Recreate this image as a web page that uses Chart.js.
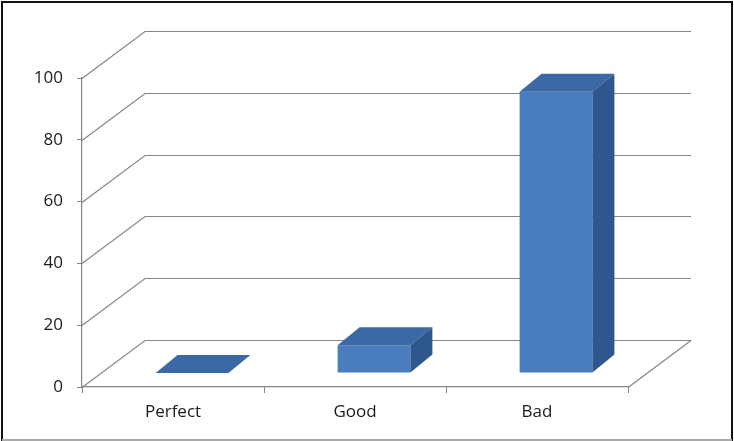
<!DOCTYPE html>
<html>
<head>
<meta charset="utf-8">
<script src="https://cdn.jsdelivr.net/npm/chart.js@4/dist/chart.umd.min.js"></script>
<style>
  html, body { margin: 0; padding: 0; background: #fff; }
  #wrap { width: 734px; height: 441px; position: relative; }
</style>
</head>
<body>
<div id="wrap"><canvas id="myChart" width="734" height="441"></canvas></div>
<script>
const categories = ['Perfect', 'Good', 'Bad'];
const values = [0, 9, 91];
const yTicks = [0, 20, 40, 60, 80, 100];

// 3d look: floor depth and bar depth in pixels
const WALL_DX = 63, WALL_DY = -47;
const BAR_SHIFT_X = 19, BAR_SHIFT_Y = -14;
const BAR_DX = 22, BAR_DY = -18;

const gridColor = '#858585';

const depthPlugin = {
  id: 'depth',
  beforeDatasetsDraw(chart) {
    const ctx = chart.ctx;
    const y = chart.scales.y;
    const left = chart.chartArea.left, right = chart.chartArea.right;
    ctx.save();
    ctx.strokeStyle = gridColor;
    ctx.lineWidth = 1.2;
    yTicks.forEach(v => {
      const py = Math.round(y.getPixelForValue(v)) + 0.5;
      ctx.beginPath();
      ctx.moveTo(left, py);
      ctx.lineTo(left + WALL_DX, py + WALL_DY);
      ctx.lineTo(right + WALL_DX, py + WALL_DY);
      ctx.stroke();
    });
    // floor right edge
    const by = Math.round(y.getPixelForValue(0)) + 0.5;
    ctx.beginPath();
    ctx.moveTo(right, by);
    ctx.lineTo(right + WALL_DX, by + WALL_DY);
    ctx.stroke();
    ctx.restore();
    ctx.save();
    ctx.translate(BAR_SHIFT_X, BAR_SHIFT_Y);
  },
  afterDatasetsDraw(chart) {
    const ctx = chart.ctx;
    const meta = chart.getDatasetMeta(0);
    meta.data.forEach(bar => {
      const p = bar.getProps(['x', 'y', 'base', 'width'], true);
      const l = p.x - p.width / 2, r = p.x + p.width / 2;
      // top face
      ctx.fillStyle = '#3a69a6';
      ctx.beginPath();
      ctx.moveTo(l, p.y);
      ctx.lineTo(l + BAR_DX, p.y + BAR_DY);
      ctx.lineTo(r + BAR_DX, p.y + BAR_DY);
      ctx.lineTo(r, p.y);
      ctx.closePath();
      ctx.fill();
      // side face
      if (p.base - p.y > 0.5) {
        ctx.fillStyle = '#2d578d';
        ctx.beginPath();
        ctx.moveTo(r, p.y);
        ctx.lineTo(r + BAR_DX, p.y + BAR_DY);
        ctx.lineTo(r + BAR_DX, p.base + BAR_DY);
        ctx.lineTo(r, p.base);
        ctx.closePath();
        ctx.fill();
      }
    });
    ctx.restore();
  },
  afterDraw(chart) {
    const ctx = chart.ctx;
    ctx.save();
    ctx.lineWidth = 2;
    ctx.strokeStyle = '#111';
    ctx.beginPath();
    ctx.moveTo(2, 441);
    ctx.lineTo(2, 2);
    ctx.lineTo(732, 2);
    ctx.lineTo(732, 441);
    ctx.stroke();
    ctx.strokeStyle = '#aaa';
    ctx.beginPath();
    ctx.moveTo(2, 440);
    ctx.lineTo(732, 440);
    ctx.stroke();
    ctx.restore();
  }
};

const ctx = document.getElementById('myChart').getContext('2d');

new Chart(ctx, {
  type: 'bar',
  data: {
    labels: categories,
    datasets: [
      {
        data: values,
        backgroundColor: c => {
          const el = c.element;
          const props = el && el.getProps ? el.getProps(['x', 'width'], true) : null;
          if (!props || !props.width) return '#4a7dbd';
          const g = c.chart.ctx.createLinearGradient(props.x - props.width / 2, 0, props.x + props.width / 2, 0);
          g.addColorStop(0, '#4678b8');
          g.addColorStop(0.4, '#5087c7');
          g.addColorStop(1, '#4274b3');
          return g;
        },
        borderWidth: 0,
        barPercentage: 0.5,
        categoryPercentage: 0.8,
      },
    ],
  },
  options: {
    responsive: false,
    animation: false,
    events: [],
    layout: { padding: { left: 0, top: 78, right: 106, bottom: 0 } },
    plugins: { legend: { display: false }, tooltip: { enabled: false } },
    scales: {
      x: {
        offset: true,
        afterFit: s => { s.height = 54; },
        grid: { offset: true, drawOnChartArea: false, tickLength: 6, color: gridColor },
        border: { display: true, color: gridColor, width: 1.2 },
        ticks: { color: '#1a1a1a', padding: 9, font: { family: 'Open Sans', size: 17 } },
      },
      y: {
        min: 0,
        max: 100,
        afterFit: s => { s.width = 82; },
        afterBuildTicks: s => { s.ticks = yTicks.map(v => ({ value: v })); },
        grid: { drawOnChartArea: false, tickLength: 5, color: gridColor },
        border: { display: true, color: gridColor, width: 1.2 },
        ticks: { color: '#1a1a1a', padding: 14, font: { family: 'Open Sans', size: 17 } },
      },
    },
  },
  plugins: [depthPlugin],
});
</script>
</body>
</html>
